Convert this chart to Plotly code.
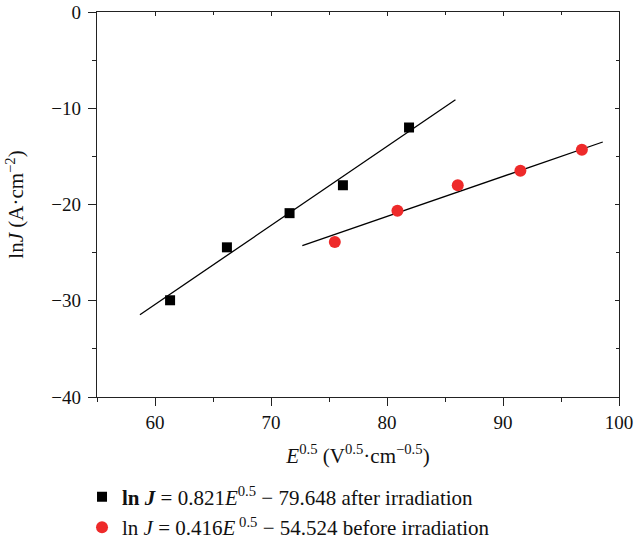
import plotly.graph_objects as go

# Data
after_x = [61.3, 66.2, 71.6, 76.2, 81.9]
after_y = [-29.95, -24.45, -20.9, -18.0, -12.0]
before_x = [75.5, 80.9, 86.1, 91.5, 96.8]
before_y = [-23.9, -20.65, -18.0, -16.5, -14.3]

# Linear fits (from legend equations) and their drawn extents
after_slope, after_icpt = 0.821, -79.648
before_slope, before_icpt = 0.416, -54.524
after_fit_x = [58.7, 85.9]
before_fit_x = [72.7, 98.6]

after_name = "<b>ln <i>J</i></b> = 0.821<i>E</i><sup>0.5</sup> − 79.648 after irradiation"
before_name = "ln <i>J</i> = 0.416<i>E</i><sup> 0.5</sup> − 54.524 before irradiation"

FONT = "Liberation Serif"

fig = go.Figure()
fig.add_trace(go.Scatter(x=after_fit_x, y=[after_slope * v + after_icpt for v in after_fit_x],
                         mode="lines", line=dict(color="black", width=1.3), showlegend=False))
fig.add_trace(go.Scatter(x=before_fit_x, y=[before_slope * v + before_icpt for v in before_fit_x],
                         mode="lines", line=dict(color="black", width=1.3), showlegend=False))
fig.add_trace(go.Scatter(x=after_x, y=after_y, mode="markers", name=after_name,
                         marker=dict(symbol="square", size=10, color="black")))
fig.add_trace(go.Scatter(x=before_x, y=before_y, mode="markers", name=before_name,
                         marker=dict(symbol="circle", size=12, color="#ee2a2a")))
# invisible trace to anchor mirror axes
fig.add_trace(go.Scatter(x=[None], y=[None], xaxis="x2", yaxis="y2", showlegend=False))

axis_common = dict(showline=True, linecolor="#222", linewidth=1.3, showgrid=False, zeroline=False,
                   automargin=False)

fig.update_layout(
    width=634, height=560,
    margin=dict(l=97, r=15, t=12, b=163),
    plot_bgcolor="white", paper_bgcolor="white",
    font=dict(family=FONT, size=19, color="#111"),
    xaxis=dict(range=[55, 100], dtick=10, ticks="outside", ticklen=8, tickcolor="#222", tickwidth=1.2,
               ticklabeloverflow="allow",
               minor=dict(dtick=5, ticks="outside", ticklen=4, tickcolor="#222"),
               title=dict(text="<i>E</i><sup>0.5</sup> (V<sup>0.5</sup>·cm<sup>−0.5</sup>)", standoff=16,
                          font=dict(size=21)),
               **axis_common),
    yaxis=dict(range=[-40, 0], dtick=10, ticks="outside", ticklen=8, tickcolor="#222", tickwidth=1.2,
               ticklabelstandoff=3, ticklabeloverflow="allow",
               minor=dict(dtick=5, ticks="outside", ticklen=4, tickcolor="#222"),
               title=dict(text="ln<i>J</i> (A·cm<sup>−2</sup>)", standoff=21, font=dict(size=21)),
               **axis_common),
    xaxis2=dict(range=[55, 100], overlaying="x", side="top", anchor="y2", dtick=10, ticks="inside",
                ticklen=4, tickcolor="#222", showticklabels=False,
                minor=dict(dtick=5, ticks="inside", ticklen=3, tickcolor="#222"), **axis_common),
    yaxis2=dict(range=[-40, 0], overlaying="y", side="right", anchor="x2", dtick=10, ticks="inside",
                ticklen=4, tickcolor="#222", showticklabels=False,
                minor=dict(dtick=5, ticks="inside", ticklen=3, tickcolor="#222"), **axis_common),
    legend=dict(x=-0.0287, y=-0.207, xanchor="left", yanchor="top",
                bgcolor="rgba(0,0,0,0)",
                font=dict(family=FONT, size=21, color="#111"), tracegroupgap=0),
)

fig.write_html("out.html", config={"displayModeBar": False},
               post_script="document.body.style.margin='0px';")
